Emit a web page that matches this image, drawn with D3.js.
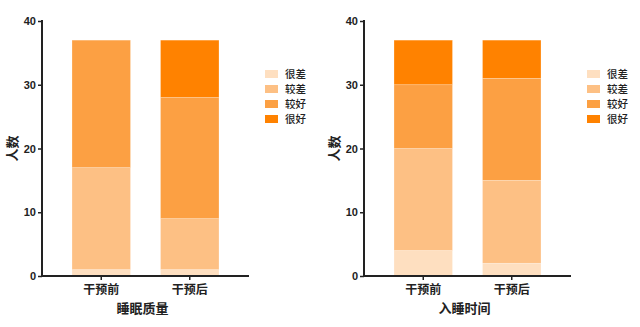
<!DOCTYPE html>
<html><head><meta charset="utf-8">
<script src="https://cdn.jsdelivr.net/npm/d3@7"></script>
<style>body{margin:0;background:#fff}svg{display:block}text{font-family:"Noto Sans CJK SC","Liberation Sans",Arial,sans-serif}</style>
</head><body>
<svg id="c" width="640" height="327"></svg>
<script>
const categories = ["干预前", "干预后"];
const seriesNames = ["很差", "较差", "较好", "很好"];
const colors = ["#FEDFC0", "#FDC084", "#FCA043", "#FF8200"];
const yTicks = [0, 10, 20, 30, 40];
// 睡眠质量
const sleepQuality = {
  "很差": [1, 1],
  "较差": [16, 8],
  "较好": [20, 19],
  "很好": [0, 9]
};
// 入睡时间
const sleepOnset = {
  "很差": [4, 2],
  "较差": [16, 13],
  "较好": [10, 16],
  "很好": [7, 6]
};
const panels = [
  {title: "睡眠质量", data: sleepQuality, x0: 42, x1: 249, legendX: 265},
  {title: "入睡时间", data: sleepOnset, x0: 364, x1: 571, legendX: 587}
];

const svg = d3.select("#c");
const yTop = 21, yBot = 276;

panels.forEach(p => {
  const g = svg.append("g");
  const y = d3.scaleLinear().domain([0, 40]).range([yBot, yTop]);
  const x = d3.scaleBand().domain(categories).range([p.x0, p.x1]).paddingInner(0.339).paddingOuter(0.339);
  const rows = categories.map((c, i) => {
    const r = {cat: c};
    seriesNames.forEach(s => r[s] = p.data[s][i]);
    return r;
  });
  const stacked = d3.stack().keys(seriesNames)(rows);
  stacked.forEach((layer, li) => {
    g.append("g").selectAll("rect").data(layer).join("rect")
      .attr("x", d => x(d.data.cat))
      .attr("width", x.bandwidth())
      .attr("y", d => y(d[1]))
      .attr("height", d => y(d[0]) - y(d[1]))
      .attr("fill", colors[li])
      .attr("stroke", "#fff").attr("stroke-opacity", 0.4).attr("stroke-width", 0.6);
  });
  // y axis
  const ya = g.append("g").attr("transform", `translate(${p.x0},0)`)
    .call(d3.axisLeft(y).tickValues(yTicks).tickSize(4).tickSizeOuter(0));
  ya.select(".domain").attr("stroke", "#222").attr("stroke-width", 2).attr("d", `M0,${yTop - 1}V${yBot}`);
  ya.selectAll(".tick line").attr("stroke", "#222").attr("stroke-width", 1.5);
  ya.selectAll(".tick text").attr("font-size", 11).attr("font-weight", "bold").attr("fill", "#222")
    .attr("x", -6).style("font-family", "'Liberation Sans',Arial,sans-serif");
  // x axis
  const xa = g.append("g").attr("transform", `translate(0,${yBot})`)
    .call(d3.axisBottom(x).tickSize(4).tickSizeOuter(0));
  xa.select(".domain").attr("stroke", "#222").attr("stroke-width", 2).attr("d", `M${p.x0 - 1},0H${p.x1}`);
  xa.selectAll(".tick line").attr("stroke", "#222").attr("stroke-width", 1.5);
  xa.selectAll(".tick text").attr("font-size", 12).attr("font-weight", "bold").attr("fill", "#222").attr("dy", "0.95em");
  // titles
  g.append("text").attr("x", (p.x0 + p.x1) / 2 - 3).attr("y", 313).attr("text-anchor", "middle")
    .attr("font-size", 13).attr("font-weight", "bold").attr("fill", "#222").text(p.title);
  g.append("text").attr("transform", `translate(${p.x0 - 25},${(yTop + yBot) / 2}) rotate(-90)`)
    .attr("text-anchor", "middle").attr("font-size", 13).attr("font-weight", "bold").attr("fill", "#222").text("人数");
  // legend
  const lg = g.append("g");
  seriesNames.forEach((s, i) => {
    const yy = 74 + i * 15;
    lg.append("rect").attr("x", p.legendX).attr("y", yy - 4).attr("width", 13).attr("height", 8).attr("fill", colors[i]);
    lg.append("text").attr("x", p.legendX + 20).attr("y", yy).attr("dy", "0.35em")
      .attr("font-size", 10.5).attr("font-weight", 500).attr("fill", "#222").text(s);
  });
});
</script>
</body></html>
